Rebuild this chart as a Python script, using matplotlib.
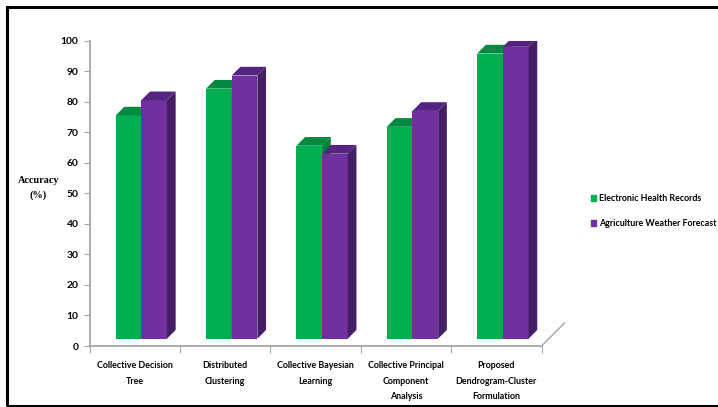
"""Accuracy of collective clustering methods on two datasets, drawn as pseudo-3D bars."""
import matplotlib
matplotlib.use("Agg")
import matplotlib.pyplot as plt
from matplotlib.patches import Patch, Rectangle

W, H = 718, 407

categories = [
    "Collective Decision\nTree",
    "Distributed\nClustering",
    "Collective Bayesian\nLearning",
    "Collective Principal\nComponent\nAnalysis",
    "Proposed\nDendrogram-Cluster\nFormulation",
]
series_names = ["Electronic Health Records", "Agriculture Weather Forecast"]
health_records = [75.5, 84.3, 65.6, 71.8, 95.8]
weather_forecast = [80.5, 88.6, 63.0, 77.0, 98.0]
y_ticks = [0, 10, 20, 30, 40, 50, 60, 70, 80, 90, 100]

GREEN = ("#00b050", "#008a40", "#00803a")
PURPLE = ("#7030a0", "#552480", "#451f66")
AXIS_GREY = "#a6a6a6"

# bars stand slightly inside the floor, so everything is shifted from the axis
FLOOR = 2.4
BAR_W = 0.284
BAR_SHIFT = 0.073
DX, DY = 0.096, 2.85


def draw_bar(ax, left, top, colors):
    front, roof, side = colors
    right = left + BAR_W
    ax.fill([left, right, right, left], [FLOOR, FLOOR, top, top], color=front, lw=0, zorder=3)
    ax.fill([left, right, right + DX, left + DX], [top, top, top + DY, top + DY],
            color=roof, lw=0, zorder=3)
    ax.fill([right, right + DX, right + DX, right],
            [FLOOR, FLOOR + DY, top + DY, top], color=side, lw=0, zorder=3)


plt.rcParams["font.family"] = "Lato"
plt.rcParams["font.weight"] = "bold"

fig = plt.figure(figsize=(W / 100, H / 100), dpi=100)
ax = fig.add_axes([89.5 / W, 1 - 346 / H, 452 / W, 305.3 / H])
ax.set_xlim(0, 5)
ax.set_ylim(0, 100)
ax.patch.set_alpha(0)

for i, (a, b) in enumerate(zip(health_records, weather_forecast)):
    center = i + 0.5 + BAR_SHIFT
    draw_bar(ax, center - BAR_W, a, GREEN)
    draw_bar(ax, center, b, PURPLE)

for side in ("top", "right"):
    ax.spines[side].set_visible(False)
for side in ("left", "bottom"):
    ax.spines[side].set_color(AXIS_GREY)
    ax.spines[side].set_linewidth(1.3)

ax.set_yticks(y_ticks)
ax.tick_params(axis="y", length=4, width=0.8, color=AXIS_GREY, labelsize=7.4, pad=4)
ax.set_xticks(range(6))
ax.set_xticklabels([])
ax.tick_params(axis="x", length=5, width=0.8, color=AXIS_GREY)
for i, name in enumerate(categories):
    ax.annotate(name, (i + 0.5, 0), xytext=(0, -11), textcoords="offset points",
                ha="center", va="top", fontsize=6.4, linespacing=1.9)

# receding floor edge at the far end of the x axis
ax.plot([5, 5 + 23 / 90.4], [0, 23 / 3.053], color=AXIS_GREY, lw=1, clip_on=False)

fig.text(38.5 / W, 1 - 188 / H, "Accuracy\n(%)", family="Liberation Serif", fontweight="bold",
         fontsize=7.4, ha="center", va="center", linespacing=1.6)

handles = [Patch(color=GREEN[0]), Patch(color=PURPLE[0])]
fig.legend(handles, series_names, loc="center left", bbox_to_anchor=(590.5 / W, 1 - 211 / H),
           frameon=False, fontsize=6.4, handlelength=0.62, handleheight=0.62,
           handletextpad=0.3, labelspacing=1.85, borderpad=0, borderaxespad=0)

# frame around the whole figure, open past the right edge
fig.add_artist(Rectangle((7 / W, 1 - 406 / H), 720 / W, 399.5 / H, transform=fig.transFigure,
                         fill=False, edgecolor="black", lw=2.2))

fig.savefig("out.png", dpi=100)
